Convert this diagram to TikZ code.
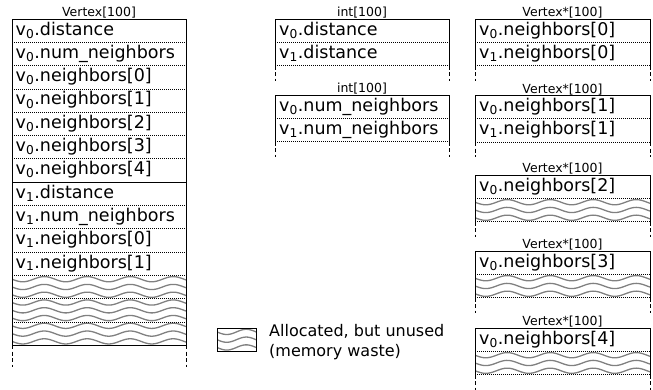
\documentclass[tikz,border=0pt]{standalone}
\usepackage{fontspec}
\setmainfont{DejaVu Sans}
\newcommand\vv[1]{v\textsubscript{#1}}
\tikzset{
  cell/.style={anchor=base west, inner sep=0pt, font=\fontsize{17.5}{21}\selectfont},
  ttl/.style={anchor=base, inner sep=0pt, font=\fontsize{12.5}{15}\selectfont},
  leg/.style={anchor=base west, inner sep=0pt, font=\fontsize{16}{20}\selectfont},
  frame/.style={line width=0.9pt, black},
  rowsep/.style={line width=0.8pt, dash pattern=on 0.8pt off 1.2pt},
  ext/.style={line width=0.9pt, dash pattern=on 4pt off 2.5pt},
  wave/.style={line width=1.3pt, black!50},
}
% #1 x0, #2 x1, #3 top, #4 number of lines, #5 period
\newcommand\mywavefill[5]{%
  \begin{scope}
    \clip (#1,#3) rectangle (#2,{#3+#4*7.77});
    \pgfmathsetmacro\myk{360/#5}
    \foreach \j in {1,...,#4}{%
      \pgfmathsetmacro\myyc{#3+3.9+7.77*(\j-1)}
      \draw[wave] plot[domain=#1:#2, samples=90, smooth] (\x,{\myyc+2.6*sin(\myk*(\x-#1))});
    }
  \end{scope}}
% small two-row box: #1 x0, #2 x1, #3 top
\newcommand\mysmallframe[3]{%
  \pgfmathsetmacro\myya{#3+23.3}\pgfmathsetmacro\myyb{#3+46.6}\pgfmathsetmacro\myyd{#3+61.6}
  \draw[frame] (#1,\myyb) -- (#1,#3) -- (#2,#3) -- (#2,\myyb);
  \draw[rowsep] (#1,\myya) -- (#2,\myya) (#1,\myyb) -- (#2,\myyb);
  \draw[ext] (#1,\myyb) -- (#1,\myyd) (#2,\myyb) -- (#2,\myyd);}
\begin{document}
\begin{tikzpicture}[x=1pt, y=-1pt]
\useasboundingbox (0,0) rectangle (653,389);

% ---------- left column: Vertex[100] ----------
\node[ttl] (tL) at (99,16.5) {Vertex[100]};
\foreach \i/\t in {0/{\vv0.distance},1/{\vv0.num\_neighbors},2/{\vv0.neighbors[0]},
  3/{\vv0.neighbors[1]},4/{\vv0.neighbors[2]},5/{\vv0.neighbors[3]},6/{\vv0.neighbors[4]},
  7/{\vv1.distance},8/{\vv1.num\_neighbors},9/{\vv1.neighbors[0]},10/{\vv1.neighbors[1]}}
  \node[cell] (L\i) at (15.5,{19+\i*23.3+16}) {\t};
\mywavefill{12}{186}{275.3}{9}{43}
\foreach \k in {1,2,3,4,5,6,8,9,10,11,12,13}
  \draw[rowsep] (12,{19+\k*23.3}) -- (186,{19+\k*23.3});
\draw[frame] (12,182.1) -- (186,182.1);
\draw[frame] (12,345.2) -- (12,19) -- (186,19) -- (186,345.2) -- cycle;
\draw[ext] (12,345.2) -- (12,367) (186,345.2) -- (186,367);

% ---------- middle column: int[100] ----------
\node[ttl] (tM1) at (362,16.5) {int[100]};
\node[cell] (M1a) at (279,35) {\vv0.distance};
\node[cell] (M1b) at (279,58.3) {\vv1.distance};
\mysmallframe{275}{449}{19}
\node[ttl] (tM2) at (362,92.5) {int[100]};
\node[cell] (M2a) at (279,111) {\vv0.num\_neighbors};
\node[cell] (M2b) at (279,134.3) {\vv1.num\_neighbors};
\mysmallframe{275}{449}{95}

% ---------- right column: Vertex*[100] ----------
\node[ttl] (tR1) at (562.5,16.5) {Vertex*[100]};
\node[cell] (R1a) at (479,35) {\vv0.neighbors[0]};
\node[cell] (R1b) at (479,58.3) {\vv1.neighbors[0]};
\mysmallframe{475}{650}{19}
\node[ttl] (tR2) at (562.5,93) {Vertex*[100]};
\node[cell] (R2a) at (479,111.5) {\vv0.neighbors[1]};
\node[cell] (R2b) at (479,134.8) {\vv1.neighbors[1]};
\mysmallframe{475}{650}{95.5}
\node[ttl] (tR3) at (562.5,172.5) {Vertex*[100]};
\node[cell] (R3a) at (479,191) {\vv0.neighbors[2]};
\mywavefill{475}{650}{198.3}{3}{43}
\mysmallframe{475}{650}{175}
\node[ttl] (tR4) at (562.5,248.5) {Vertex*[100]};
\node[cell] (R4a) at (479,267) {\vv0.neighbors[3]};
\mywavefill{475}{650}{274.3}{3}{43}
\mysmallframe{475}{650}{251}
\node[ttl] (tR5) at (562.5,325.5) {Vertex*[100]};
\node[cell] (R5a) at (479,344) {\vv0.neighbors[4]};
\mywavefill{475}{650}{351.3}{3}{43}
\mysmallframe{475}{650}{328}

% ---------- legend ----------
\mywavefill{217}{256}{328}{3}{39}
\draw[frame] (217,328) rectangle (256,351);
\node[leg] (lg1) at (269,336.7) {Allocated, but unused};
\node[leg] (lg2) at (269,356.7) {(memory waste)};
\end{tikzpicture}
\end{document}
